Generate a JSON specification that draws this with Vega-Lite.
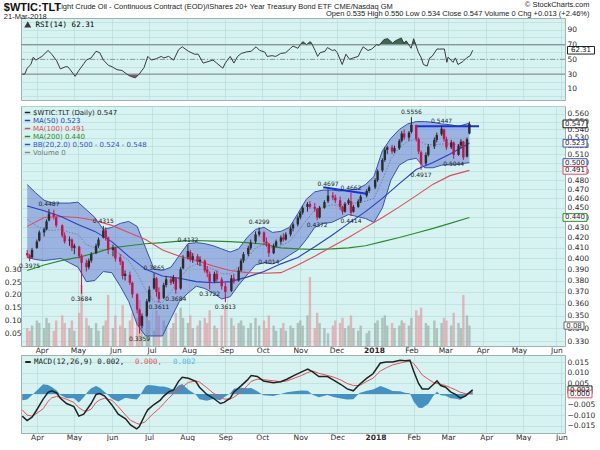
{
"$schema": "https://vega.github.io/schema/vega-lite/v6.json",
"background": "#ffffff",
"padding": {"left": 3, "top": 0, "right": 0, "bottom": 0},
"title": {"text": "$WTIC:TLT", "subtitle": "21-Mar-2018", "anchor": "start", "frame": "bounds", "font": "Liberation Sans", "fontSize": 11, "fontWeight": "bold", "color": "#111111", "subtitleFont": "Liberation Sans", "subtitleFontSize": 7.5, "subtitleColor": "#222222", "subtitlePadding": 0, "offset": 0, "dy": 20},
"datasets": {
"px": [
{"d":"2017-03-20","o":0.405,"h":0.408,"l":0.401,"c":0.403,"v":0.07},
{"d":"2017-03-22","o":0.403,"h":0.404,"l":0.3975,"c":0.400,"v":0.06},
{"d":"2017-03-24","o":0.401,"h":0.410,"l":0.400,"c":0.408,"v":0.08},
{"d":"2017-03-28","o":0.410,"h":0.418,"l":0.409,"c":0.416,"v":0.10},
{"d":"2017-03-30","o":0.417,"h":0.427,"l":0.416,"c":0.425,"v":0.09},
{"d":"2017-04-03","o":0.425,"h":0.430,"l":0.421,"c":0.428,"v":0.07},
{"d":"2017-04-05","o":0.428,"h":0.438,"l":0.427,"c":0.436,"v":0.11},
{"d":"2017-04-07","o":0.437,"h":0.4487,"l":0.436,"c":0.444,"v":0.09},
{"d":"2017-04-11","o":0.444,"h":0.448,"l":0.438,"c":0.441,"v":0.06},
{"d":"2017-04-13","o":0.440,"h":0.441,"l":0.430,"c":0.432,"v":0.10},
{"d":"2017-04-18","o":0.432,"h":0.433,"l":0.420,"c":0.422,"v":0.12},
{"d":"2017-04-20","o":0.422,"h":0.425,"l":0.414,"c":0.416,"v":0.09},
{"d":"2017-04-24","o":0.417,"h":0.421,"l":0.412,"c":0.418,"v":0.07},
{"d":"2017-04-26","o":0.418,"h":0.419,"l":0.407,"c":0.410,"v":0.10},
{"d":"2017-04-28","o":0.410,"h":0.414,"l":0.404,"c":0.412,"v":0.06},
{"d":"2017-05-02","o":0.411,"h":0.412,"l":0.400,"c":0.402,"v":0.13},
{"d":"2017-05-04","o":0.402,"h":0.404,"l":0.3684,"c":0.396,"v":0.24},
{"d":"2017-05-08","o":0.396,"h":0.399,"l":0.388,"c":0.392,"v":0.11},
{"d":"2017-05-10","o":0.392,"h":0.400,"l":0.390,"c":0.398,"v":0.08},
{"d":"2017-05-12","o":0.398,"h":0.406,"l":0.396,"c":0.404,"v":0.07},
{"d":"2017-05-16","o":0.405,"h":0.414,"l":0.404,"c":0.412,"v":0.09},
{"d":"2017-05-18","o":0.412,"h":0.420,"l":0.410,"c":0.418,"v":0.06},
{"d":"2017-05-22","o":0.420,"h":0.4315,"l":0.419,"c":0.427,"v":0.08},
{"d":"2017-05-24","o":0.427,"h":0.430,"l":0.417,"c":0.420,"v":0.10},
{"d":"2017-05-26","o":0.420,"h":0.421,"l":0.404,"c":0.408,"v":0.20},
{"d":"2017-05-30","o":0.408,"h":0.413,"l":0.402,"c":0.410,"v":0.07},
{"d":"2017-06-01","o":0.410,"h":0.411,"l":0.397,"c":0.400,"v":0.12},
{"d":"2017-06-05","o":0.401,"h":0.404,"l":0.394,"c":0.397,"v":0.08},
{"d":"2017-06-07","o":0.397,"h":0.398,"l":0.381,"c":0.384,"v":0.16},
{"d":"2017-06-09","o":0.384,"h":0.389,"l":0.380,"c":0.386,"v":0.07},
{"d":"2017-06-13","o":0.385,"h":0.388,"l":0.376,"c":0.378,"v":0.10},
{"d":"2017-06-15","o":0.378,"h":0.379,"l":0.365,"c":0.368,"v":0.13},
{"d":"2017-06-19","o":0.368,"h":0.369,"l":0.352,"c":0.355,"v":0.11},
{"d":"2017-06-21","o":0.355,"h":0.356,"l":0.3359,"c":0.342,"v":0.18},
{"d":"2017-06-23","o":0.342,"h":0.352,"l":0.340,"c":0.350,"v":0.09},
{"d":"2017-06-27","o":0.350,"h":0.364,"l":0.349,"c":0.362,"v":0.12},
{"d":"2017-06-29","o":0.362,"h":0.375,"l":0.361,"c":0.372,"v":0.10},
{"d":"2017-07-03","o":0.373,"h":0.3865,"l":0.372,"c":0.382,"v":0.06},
{"d":"2017-07-05","o":0.382,"h":0.383,"l":0.366,"c":0.370,"v":0.14},
{"d":"2017-07-07","o":0.370,"h":0.374,"l":0.3611,"c":0.364,"v":0.12},
{"d":"2017-07-11","o":0.365,"h":0.378,"l":0.364,"c":0.376,"v":0.10},
{"d":"2017-07-13","o":0.376,"h":0.384,"l":0.374,"c":0.381,"v":0.08},
{"d":"2017-07-17","o":0.381,"h":0.384,"l":0.376,"c":0.378,"v":0.07},
{"d":"2017-07-19","o":0.379,"h":0.385,"l":0.377,"c":0.383,"v":0.09},
{"d":"2017-07-21","o":0.382,"h":0.383,"l":0.3684,"c":0.372,"v":0.13},
{"d":"2017-07-25","o":0.373,"h":0.392,"l":0.372,"c":0.390,"v":0.15},
{"d":"2017-07-27","o":0.391,"h":0.403,"l":0.390,"c":0.400,"v":0.11},
{"d":"2017-07-31","o":0.401,"h":0.4132,"l":0.399,"c":0.407,"v":0.09},
{"d":"2017-08-02","o":0.406,"h":0.408,"l":0.397,"c":0.399,"v":0.12},
{"d":"2017-08-04","o":0.399,"h":0.405,"l":0.396,"c":0.402,"v":0.07},
{"d":"2017-08-08","o":0.402,"h":0.404,"l":0.394,"c":0.397,"v":0.08},
{"d":"2017-08-10","o":0.397,"h":0.402,"l":0.393,"c":0.399,"v":0.10},
{"d":"2017-08-14","o":0.398,"h":0.399,"l":0.387,"c":0.389,"v":0.11},
{"d":"2017-08-16","o":0.390,"h":0.393,"l":0.383,"c":0.387,"v":0.09},
{"d":"2017-08-18","o":0.386,"h":0.388,"l":0.3722,"c":0.379,"v":0.14},
{"d":"2017-08-22","o":0.379,"h":0.388,"l":0.378,"c":0.386,"v":0.08},
{"d":"2017-08-24","o":0.386,"h":0.389,"l":0.378,"c":0.381,"v":0.07},
{"d":"2017-08-28","o":0.381,"h":0.383,"l":0.372,"c":0.375,"v":0.12},
{"d":"2017-08-31","o":0.375,"h":0.378,"l":0.3613,"c":0.370,"v":0.15},
{"d":"2017-09-05","o":0.371,"h":0.385,"l":0.370,"c":0.382,"v":0.11},
{"d":"2017-09-07","o":0.382,"h":0.386,"l":0.377,"c":0.379,"v":0.08},
{"d":"2017-09-11","o":0.380,"h":0.392,"l":0.379,"c":0.389,"v":0.09},
{"d":"2017-09-13","o":0.389,"h":0.400,"l":0.388,"c":0.398,"v":0.10},
{"d":"2017-09-15","o":0.398,"h":0.406,"l":0.396,"c":0.404,"v":0.08},
{"d":"2017-09-19","o":0.404,"h":0.412,"l":0.402,"c":0.410,"v":0.07},
{"d":"2017-09-21","o":0.410,"h":0.418,"l":0.408,"c":0.415,"v":0.09},
{"d":"2017-09-25","o":0.416,"h":0.426,"l":0.414,"c":0.423,"v":0.11},
{"d":"2017-09-28","o":0.423,"h":0.4299,"l":0.421,"c":0.426,"v":0.08},
{"d":"2017-10-02","o":0.425,"h":0.426,"l":0.413,"c":0.416,"v":0.10},
{"d":"2017-10-04","o":0.416,"h":0.420,"l":0.411,"c":0.414,"v":0.07},
{"d":"2017-10-06","o":0.414,"h":0.415,"l":0.4014,"c":0.405,"v":0.12},
{"d":"2017-10-10","o":0.405,"h":0.414,"l":0.404,"c":0.412,"v":0.08},
{"d":"2017-10-12","o":0.412,"h":0.418,"l":0.410,"c":0.416,"v":0.06},
{"d":"2017-10-16","o":0.416,"h":0.422,"l":0.413,"c":0.420,"v":0.07},
{"d":"2017-10-18","o":0.420,"h":0.424,"l":0.416,"c":0.418,"v":0.09},
{"d":"2017-10-20","o":0.418,"h":0.425,"l":0.417,"c":0.423,"v":0.06},
{"d":"2017-10-24","o":0.423,"h":0.431,"l":0.421,"c":0.429,"v":0.08},
{"d":"2017-10-26","o":0.429,"h":0.435,"l":0.426,"c":0.433,"v":0.07},
{"d":"2017-10-30","o":0.433,"h":0.442,"l":0.431,"c":0.440,"v":0.09},
{"d":"2017-11-01","o":0.440,"h":0.447,"l":0.438,"c":0.445,"v":0.10},
{"d":"2017-11-03","o":0.445,"h":0.452,"l":0.443,"c":0.450,"v":0.08},
{"d":"2017-11-07","o":0.451,"h":0.456,"l":0.446,"c":0.454,"v":0.12},
{"d":"2017-11-09","o":0.454,"h":0.457,"l":0.449,"c":0.451,"v":0.27},
{"d":"2017-11-13","o":0.451,"h":0.455,"l":0.446,"c":0.449,"v":0.07},
{"d":"2017-11-15","o":0.449,"h":0.450,"l":0.4372,"c":0.440,"v":0.13},
{"d":"2017-11-17","o":0.440,"h":0.452,"l":0.439,"c":0.450,"v":0.09},
{"d":"2017-11-21","o":0.450,"h":0.458,"l":0.449,"c":0.456,"v":0.07},
{"d":"2017-11-24","o":0.457,"h":0.4697,"l":0.455,"c":0.463,"v":0.05},
{"d":"2017-11-28","o":0.463,"h":0.467,"l":0.458,"c":0.461,"v":0.08},
{"d":"2017-11-30","o":0.461,"h":0.464,"l":0.455,"c":0.458,"v":0.10},
{"d":"2017-12-04","o":0.458,"h":0.462,"l":0.448,"c":0.451,"v":0.09},
{"d":"2017-12-06","o":0.451,"h":0.452,"l":0.443,"c":0.446,"v":0.11},
{"d":"2017-12-08","o":0.446,"h":0.456,"l":0.445,"c":0.454,"v":0.07},
{"d":"2017-12-11","o":0.455,"h":0.460,"l":0.453,"c":0.458,"v":0.08},
{"d":"2017-12-13","o":0.457,"h":0.4662,"l":0.4414,"c":0.445,"v":0.12},
{"d":"2017-12-15","o":0.446,"h":0.453,"l":0.445,"c":0.451,"v":0.07},
{"d":"2017-12-19","o":0.451,"h":0.459,"l":0.450,"c":0.457,"v":0.06},
{"d":"2017-12-21","o":0.457,"h":0.464,"l":0.455,"c":0.462,"v":0.08},
{"d":"2017-12-26","o":0.463,"h":0.470,"l":0.461,"c":0.468,"v":0.05},
{"d":"2017-12-28","o":0.468,"h":0.474,"l":0.466,"c":0.472,"v":0.06},
{"d":"2018-01-02","o":0.472,"h":0.482,"l":0.470,"c":0.480,"v":0.09},
{"d":"2018-01-04","o":0.480,"h":0.492,"l":0.478,"c":0.490,"v":0.10},
{"d":"2018-01-08","o":0.491,"h":0.505,"l":0.489,"c":0.503,"v":0.11},
{"d":"2018-01-10","o":0.503,"h":0.518,"l":0.501,"c":0.515,"v":0.12},
{"d":"2018-01-12","o":0.515,"h":0.520,"l":0.510,"c":0.518,"v":0.08},
{"d":"2018-01-16","o":0.518,"h":0.521,"l":0.510,"c":0.513,"v":0.09},
{"d":"2018-01-18","o":0.513,"h":0.520,"l":0.511,"c":0.517,"v":0.07},
{"d":"2018-01-22","o":0.517,"h":0.528,"l":0.515,"c":0.526,"v":0.08},
{"d":"2018-01-24","o":0.526,"h":0.538,"l":0.524,"c":0.535,"v":0.10},
{"d":"2018-01-26","o":0.535,"h":0.540,"l":0.527,"c":0.530,"v":0.09},
{"d":"2018-01-30","o":0.530,"h":0.538,"l":0.526,"c":0.536,"v":0.08},
{"d":"2018-02-01","o":0.537,"h":0.5556,"l":0.535,"c":0.546,"v":0.11},
{"d":"2018-02-05","o":0.545,"h":0.546,"l":0.525,"c":0.528,"v":0.14},
{"d":"2018-02-07","o":0.528,"h":0.530,"l":0.510,"c":0.513,"v":0.12},
{"d":"2018-02-09","o":0.512,"h":0.514,"l":0.4917,"c":0.498,"v":0.15},
{"d":"2018-02-13","o":0.499,"h":0.512,"l":0.497,"c":0.509,"v":0.09},
{"d":"2018-02-15","o":0.509,"h":0.522,"l":0.507,"c":0.519,"v":0.08},
{"d":"2018-02-20","o":0.519,"h":0.530,"l":0.516,"c":0.527,"v":0.10},
{"d":"2018-02-22","o":0.527,"h":0.536,"l":0.524,"c":0.533,"v":0.07},
{"d":"2018-02-26","o":0.534,"h":0.5447,"l":0.532,"c":0.541,"v":0.09},
{"d":"2018-02-28","o":0.540,"h":0.541,"l":0.525,"c":0.528,"v":0.11},
{"d":"2018-03-02","o":0.528,"h":0.531,"l":0.515,"c":0.518,"v":0.10},
{"d":"2018-03-06","o":0.518,"h":0.527,"l":0.516,"c":0.524,"v":0.08},
{"d":"2018-03-08","o":0.524,"h":0.525,"l":0.5044,"c":0.509,"v":0.13},
{"d":"2018-03-12","o":0.509,"h":0.522,"l":0.508,"c":0.520,"v":0.09},
{"d":"2018-03-14","o":0.520,"h":0.528,"l":0.517,"c":0.525,"v":0.07},
{"d":"2018-03-16","o":0.525,"h":0.526,"l":0.503,"c":0.506,"v":0.20},
{"d":"2018-03-19","o":0.507,"h":0.530,"l":0.506,"c":0.528,"v":0.12},
{"d":"2018-03-21","o":0.535,"h":0.550,"l":0.534,"c":0.547,"v":0.08}
],
"bb": [
{"d":"2017-03-20","u":0.475,"m":0.438,"l":0.401},
{"d":"2017-03-27","u":0.466,"m":0.432,"l":0.399},
{"d":"2017-04-03","u":0.458,"m":0.428,"l":0.398},
{"d":"2017-04-10","u":0.455,"m":0.427,"l":0.399},
{"d":"2017-04-17","u":0.455,"m":0.428,"l":0.400},
{"d":"2017-04-24","u":0.455,"m":0.425,"l":0.396},
{"d":"2017-05-01","u":0.456,"m":0.423,"l":0.392},
{"d":"2017-05-08","u":0.448,"m":0.413,"l":0.379},
{"d":"2017-05-15","u":0.440,"m":0.410,"l":0.380},
{"d":"2017-05-22","u":0.428,"m":0.408,"l":0.388},
{"d":"2017-05-29","u":0.430,"m":0.409,"l":0.387},
{"d":"2017-06-05","u":0.434,"m":0.404,"l":0.375},
{"d":"2017-06-12","u":0.436,"m":0.398,"l":0.362},
{"d":"2017-06-19","u":0.431,"m":0.386,"l":0.343},
{"d":"2017-06-26","u":0.410,"m":0.372,"l":0.334},
{"d":"2017-07-03","u":0.390,"m":0.362,"l":0.334},
{"d":"2017-07-10","u":0.389,"m":0.361,"l":0.334},
{"d":"2017-07-17","u":0.392,"m":0.370,"l":0.348},
{"d":"2017-07-24","u":0.403,"m":0.382,"l":0.362},
{"d":"2017-07-31","u":0.414,"m":0.391,"l":0.369},
{"d":"2017-08-07","u":0.415,"m":0.395,"l":0.375},
{"d":"2017-08-14","u":0.414,"m":0.393,"l":0.373},
{"d":"2017-08-21","u":0.412,"m":0.390,"l":0.369},
{"d":"2017-08-28","u":0.409,"m":0.386,"l":0.364},
{"d":"2017-09-04","u":0.406,"m":0.386,"l":0.366},
{"d":"2017-09-11","u":0.409,"m":0.392,"l":0.376},
{"d":"2017-09-18","u":0.420,"m":0.400,"l":0.385},
{"d":"2017-09-25","u":0.428,"m":0.410,"l":0.394},
{"d":"2017-10-02","u":0.430,"m":0.413,"l":0.396},
{"d":"2017-10-09","u":0.425,"m":0.410,"l":0.395},
{"d":"2017-10-16","u":0.426,"m":0.412,"l":0.398},
{"d":"2017-10-23","u":0.430,"m":0.416,"l":0.403},
{"d":"2017-10-30","u":0.444,"m":0.426,"l":0.408},
{"d":"2017-11-06","u":0.459,"m":0.437,"l":0.418},
{"d":"2017-11-13","u":0.467,"m":0.448,"l":0.430},
{"d":"2017-11-20","u":0.469,"m":0.451,"l":0.434},
{"d":"2017-11-27","u":0.469,"m":0.453,"l":0.435},
{"d":"2017-12-04","u":0.468,"m":0.453,"l":0.439},
{"d":"2017-12-11","u":0.469,"m":0.455,"l":0.443},
{"d":"2017-12-18","u":0.470,"m":0.455,"l":0.441},
{"d":"2017-12-25","u":0.475,"m":0.457,"l":0.439},
{"d":"2018-01-01","u":0.484,"m":0.460,"l":0.435},
{"d":"2018-01-08","u":0.514,"m":0.480,"l":0.450},
{"d":"2018-01-15","u":0.529,"m":0.504,"l":0.480},
{"d":"2018-01-22","u":0.540,"m":0.518,"l":0.497},
{"d":"2018-01-29","u":0.547,"m":0.525,"l":0.503},
{"d":"2018-02-05","u":0.550,"m":0.528,"l":0.505},
{"d":"2018-02-12","u":0.550,"m":0.522,"l":0.494},
{"d":"2018-02-19","u":0.549,"m":0.521,"l":0.494},
{"d":"2018-02-26","u":0.547,"m":0.522,"l":0.497},
{"d":"2018-03-05","u":0.546,"m":0.522,"l":0.498},
{"d":"2018-03-12","u":0.544,"m":0.521,"l":0.498},
{"d":"2018-03-21","u":0.548,"m":0.524,"l":0.500}
],
"ma": [
{"d":"2017-03-20","a":0.452,"b":0.431,"g":0.389},
{"d":"2017-04-03","a":0.447,"b":0.440,"g":0.394},
{"d":"2017-04-17","a":0.441,"b":0.441,"g":0.398},
{"d":"2017-05-01","a":0.433,"b":0.440,"g":0.401},
{"d":"2017-05-15","a":0.426,"b":0.437,"g":0.405},
{"d":"2017-05-29","a":0.416,"b":0.432,"g":0.410},
{"d":"2017-06-12","a":0.402,"b":0.425,"g":0.412},
{"d":"2017-06-26","a":0.390,"b":0.418,"g":0.414},
{"d":"2017-07-10","a":0.384,"b":0.408,"g":0.415},
{"d":"2017-07-24","a":0.382,"b":0.402,"g":0.4165},
{"d":"2017-08-07","a":0.379,"b":0.398,"g":0.417},
{"d":"2017-08-21","a":0.378,"b":0.393,"g":0.4165},
{"d":"2017-09-04","a":0.379,"b":0.389,"g":0.416},
{"d":"2017-09-18","a":0.383,"b":0.387,"g":0.415},
{"d":"2017-10-02","a":0.388,"b":0.3865,"g":0.4135},
{"d":"2017-10-16","a":0.395,"b":0.387,"g":0.410},
{"d":"2017-10-30","a":0.401,"b":0.394,"g":0.409},
{"d":"2017-11-13","a":0.411,"b":0.402,"g":0.4085},
{"d":"2017-11-27","a":0.422,"b":0.411,"g":0.409},
{"d":"2017-12-11","a":0.434,"b":0.420,"g":0.410},
{"d":"2017-12-25","a":0.446,"b":0.430,"g":0.412},
{"d":"2018-01-08","a":0.460,"b":0.440,"g":0.416},
{"d":"2018-01-22","a":0.476,"b":0.451,"g":0.420},
{"d":"2018-02-05","a":0.492,"b":0.463,"g":0.4245},
{"d":"2018-02-19","a":0.500,"b":0.4755,"g":0.429},
{"d":"2018-03-05","a":0.510,"b":0.485,"g":0.434},
{"d":"2018-03-21","a":0.523,"b":0.491,"g":0.440}
],
"trend": [
{"d":"2017-11-20","p":0.4722,"g":1},
{"d":"2017-12-26","p":0.4650,"g":1},
{"d":"2018-02-04","p":0.5440,"g":2},
{"d":"2018-03-29","p":0.5440,"g":2}
],
"notes": [
{"d":"2017-04-07","p":0.4487,"t":"0.4487","s":"hi"},
{"d":"2017-05-22","p":0.4315,"t":"0.4315","s":"hi"},
{"d":"2017-07-03","p":0.3865,"t":"0.3865","s":"hi"},
{"d":"2017-07-31","p":0.4132,"t":"0.4132","s":"hi"},
{"d":"2017-09-28","p":0.4299,"t":"0.4299","s":"hi"},
{"d":"2017-11-24","p":0.4697,"t":"0.4697","s":"hi"},
{"d":"2017-12-13","p":0.4662,"t":"0.4662","s":"hi"},
{"d":"2018-02-01","p":0.5556,"t":"0.5556","s":"hi"},
{"d":"2018-02-26","p":0.5447,"t":"0.5447","s":"hi"},
{"d":"2017-03-22","p":0.3975,"t":"0.3975","s":"lo"},
{"d":"2017-05-04","p":0.3684,"t":"0.3684","s":"lo"},
{"d":"2017-06-21","p":0.3359,"t":"0.3359","s":"lo"},
{"d":"2017-07-07","p":0.3611,"t":"0.3611","s":"lo"},
{"d":"2017-07-21","p":0.3684,"t":"0.3684","s":"lo"},
{"d":"2017-08-18","p":0.3722,"t":"0.3722","s":"lo"},
{"d":"2017-08-31","p":0.3613,"t":"0.3613","s":"lo"},
{"d":"2017-10-06","p":0.4014,"t":"0.4014","s":"lo"},
{"d":"2017-11-15","p":0.4372,"t":"0.4372","s":"lo"},
{"d":"2017-12-13","p":0.4414,"t":"0.4414","s":"lo"},
{"d":"2018-02-09","p":0.4917,"t":"0.4917","s":"lo"},
{"d":"2018-03-08","p":0.5044,"t":"0.5044","s":"lo"}
],
"tags": [
{"s":"c","v":0.547,"t":"0.547"},
{"s":"m50","v":0.523,"t":"0.523"},
{"s":"bbl","v":0.500,"t":"0.500"},
{"s":"m100","v":0.491,"t":"0.491"},
{"s":"m200","v":0.440,"t":"0.440"}
],
"vtag": [{"v":0.08,"t":"0.08"}],
"rsi": [
{"d":"2017-03-20","r":30},{"d":"2017-03-22","r":30},{"d":"2017-03-24","r":38},{"d":"2017-03-27","r":43},
{"d":"2017-03-29","r":53},{"d":"2017-03-31","r":49},{"d":"2017-04-05","r":54},{"d":"2017-04-10","r":62},
{"d":"2017-04-13","r":57},{"d":"2017-04-17","r":48},{"d":"2017-04-20","r":37},{"d":"2017-04-24","r":40},
{"d":"2017-04-26","r":40},{"d":"2017-04-28","r":36},{"d":"2017-05-02","r":27},{"d":"2017-05-05","r":35},
{"d":"2017-05-09","r":44},{"d":"2017-05-11","r":49},{"d":"2017-05-15","r":52},{"d":"2017-05-19","r":61},
{"d":"2017-05-22","r":59},{"d":"2017-05-25","r":49},{"d":"2017-05-29","r":42},{"d":"2017-06-01","r":40},
{"d":"2017-06-05","r":36},{"d":"2017-06-09","r":35},{"d":"2017-06-13","r":30},{"d":"2017-06-16","r":27},
{"d":"2017-06-20","r":25},{"d":"2017-06-23","r":30},{"d":"2017-06-27","r":39},{"d":"2017-06-30","r":54},
{"d":"2017-07-03","r":49},{"d":"2017-07-07","r":51},{"d":"2017-07-11","r":54},{"d":"2017-07-13","r":52},
{"d":"2017-07-17","r":54},{"d":"2017-07-21","r":49},{"d":"2017-07-25","r":63},{"d":"2017-07-28","r":67},
{"d":"2017-08-02","r":61},{"d":"2017-08-07","r":57},{"d":"2017-08-10","r":57},{"d":"2017-08-14","r":45},
{"d":"2017-08-18","r":47},{"d":"2017-08-22","r":49},{"d":"2017-08-25","r":45},{"d":"2017-08-30","r":38},
{"d":"2017-09-01","r":45},{"d":"2017-09-05","r":54},{"d":"2017-09-08","r":45},{"d":"2017-09-11","r":54},
{"d":"2017-09-14","r":58},{"d":"2017-09-18","r":60},{"d":"2017-09-22","r":61},{"d":"2017-09-26","r":67},
{"d":"2017-09-29","r":62},{"d":"2017-10-03","r":60},{"d":"2017-10-05","r":54},{"d":"2017-10-09","r":55},
{"d":"2017-10-12","r":54},{"d":"2017-10-16","r":58},{"d":"2017-10-20","r":59},{"d":"2017-10-24","r":65},
{"d":"2017-10-26","r":68},{"d":"2017-10-30","r":65},{"d":"2017-11-01","r":70},{"d":"2017-11-03","r":74},
{"d":"2017-11-06","r":70},{"d":"2017-11-09","r":74},{"d":"2017-11-10","r":72},{"d":"2017-11-13","r":62},
{"d":"2017-11-15","r":54},{"d":"2017-11-17","r":59},{"d":"2017-11-21","r":61},{"d":"2017-11-23","r":66},
{"d":"2017-11-27","r":62},{"d":"2017-11-29","r":63},{"d":"2017-12-01","r":59},{"d":"2017-12-05","r":43},
{"d":"2017-12-08","r":57},{"d":"2017-12-11","r":50},{"d":"2017-12-14","r":52},{"d":"2017-12-18","r":54},
{"d":"2017-12-20","r":61},{"d":"2017-12-22","r":67},{"d":"2017-12-26","r":62},{"d":"2017-12-29","r":64},
{"d":"2018-01-02","r":70},{"d":"2018-01-04","r":69},{"d":"2018-01-08","r":77},{"d":"2018-01-11","r":78},
{"d":"2018-01-15","r":72},{"d":"2018-01-17","r":75},{"d":"2018-01-22","r":79},{"d":"2018-01-24","r":72},
{"d":"2018-01-26","r":75},{"d":"2018-01-30","r":65},{"d":"2018-02-01","r":78},{"d":"2018-02-05","r":59},
{"d":"2018-02-07","r":53},{"d":"2018-02-09","r":43},{"d":"2018-02-12","r":41},{"d":"2018-02-14","r":52},
{"d":"2018-02-16","r":54},{"d":"2018-02-20","r":64},{"d":"2018-02-22","r":64},{"d":"2018-02-26","r":64},
{"d":"2018-02-28","r":46},{"d":"2018-03-01","r":53},{"d":"2018-03-05","r":46},{"d":"2018-03-07","r":52},
{"d":"2018-03-09","r":43},{"d":"2018-03-13","r":47},{"d":"2018-03-16","r":52},{"d":"2018-03-19","r":55},
{"d":"2018-03-21","r":62.31}
],
"ob": [
{"d":"2017-11-01","r":70,"g":1},{"d":"2017-11-03","r":74,"g":1},{"d":"2017-11-06","r":70,"g":1},
{"d":"2017-11-09","r":74,"g":1},{"d":"2017-11-10","r":72,"g":1},{"d":"2017-11-11","r":70,"g":1},
{"d":"2018-01-02","r":70,"g":2},{"d":"2018-01-04","r":70,"g":2},{"d":"2018-01-08","r":77,"g":2},
{"d":"2018-01-11","r":78,"g":2},{"d":"2018-01-15","r":72,"g":2},{"d":"2018-01-17","r":75,"g":2},
{"d":"2018-01-22","r":79,"g":2},{"d":"2018-01-24","r":72,"g":2},{"d":"2018-01-26","r":75,"g":2},
{"d":"2018-01-28","r":70,"g":2},
{"d":"2018-01-31","r":70,"g":3},{"d":"2018-02-01","r":78,"g":3},{"d":"2018-02-03","r":70,"g":3}
],
"os": [
{"d":"2017-06-13","r":30},{"d":"2017-06-16","r":27},{"d":"2017-06-20","r":25},{"d":"2017-06-23","r":30}
],
"rtag": [{"r":62.31,"t":"62.31"}],
"macd": [
{"d":"2017-03-20","m":-0.0105,"s":-0.0075,"h":-0.0030},
{"d":"2017-03-24","m":-0.0126,"s":-0.0100,"h":-0.0026},
{"d":"2017-03-28","m":-0.0110,"s":-0.0105,"h":-0.0005},
{"d":"2017-03-31","m":-0.0083,"s":-0.0095,"h":0.0012},
{"d":"2017-04-06","m":-0.0024,"s":-0.0070,"h":0.0046},
{"d":"2017-04-10","m":0.0008,"s":-0.0035,"h":0.0043},
{"d":"2017-04-13","m":0.0015,"s":-0.0018,"h":0.0033},
{"d":"2017-04-17","m":0.0005,"s":-0.0012,"h":0.0017},
{"d":"2017-04-20","m":-0.0020,"s":-0.0015,"h":-0.0005},
{"d":"2017-04-25","m":-0.0045,"s":-0.0025,"h":-0.0020},
{"d":"2017-05-01","m":-0.0060,"s":-0.0040,"h":-0.0020},
{"d":"2017-05-05","m":-0.0105,"s":-0.0065,"h":-0.0040},
{"d":"2017-05-09","m":-0.0096,"s":-0.0080,"h":-0.0016},
{"d":"2017-05-12","m":-0.0070,"s":-0.0080,"h":0.0010},
{"d":"2017-05-15","m":-0.0045,"s":-0.0072,"h":0.0027},
{"d":"2017-05-19","m":-0.0002,"s":-0.0040,"h":0.0038},
{"d":"2017-05-22","m":0.0002,"s":-0.0028,"h":0.0030},
{"d":"2017-05-26","m":-0.0010,"s":-0.0020,"h":0.0010},
{"d":"2017-06-01","m":-0.0053,"s":-0.0030,"h":-0.0023},
{"d":"2017-06-06","m":-0.0096,"s":-0.0060,"h":-0.0036},
{"d":"2017-06-12","m":-0.0118,"s":-0.0100,"h":-0.0018},
{"d":"2017-06-16","m":-0.0147,"s":-0.0125,"h":-0.0022},
{"d":"2017-06-21","m":-0.0165,"s":-0.0139,"h":-0.0026},
{"d":"2017-06-23","m":-0.0156,"s":-0.0143,"h":-0.0013},
{"d":"2017-06-28","m":-0.0096,"s":-0.0132,"h":0.0036},
{"d":"2017-06-30","m":-0.0075,"s":-0.0118,"h":0.0043},
{"d":"2017-07-05","m":-0.0050,"s":-0.0090,"h":0.0040},
{"d":"2017-07-10","m":-0.0030,"s":-0.0065,"h":0.0035},
{"d":"2017-07-13","m":-0.0010,"s":-0.0045,"h":0.0035},
{"d":"2017-07-17","m":0.0010,"s":-0.0020,"h":0.0030},
{"d":"2017-07-21","m":0.0020,"s":0.0002,"h":0.0018},
{"d":"2017-07-25","m":0.0060,"s":0.0020,"h":0.0040},
{"d":"2017-07-28","m":0.0079,"s":0.0032,"h":0.0047},
{"d":"2017-08-02","m":0.0075,"s":0.0055,"h":0.0020},
{"d":"2017-08-08","m":0.0060,"s":0.0062,"h":-0.0002},
{"d":"2017-08-11","m":0.0032,"s":0.0057,"h":-0.0025},
{"d":"2017-08-17","m":-0.0002,"s":0.0030,"h":-0.0032},
{"d":"2017-08-22","m":-0.0019,"s":0.0005,"h":-0.0024},
{"d":"2017-08-28","m":-0.0045,"s":-0.0015,"h":-0.0030},
{"d":"2017-08-31","m":-0.0040,"s":-0.0024,"h":-0.0016},
{"d":"2017-09-05","m":-0.0020,"s":-0.0024,"h":0.0004},
{"d":"2017-09-08","m":0.0010,"s":-0.0015,"h":0.0025},
{"d":"2017-09-14","m":0.0040,"s":0.0010,"h":0.0030},
{"d":"2017-09-19","m":0.0067,"s":0.0040,"h":0.0027},
{"d":"2017-09-22","m":0.0088,"s":0.0060,"h":0.0028},
{"d":"2017-09-27","m":0.0083,"s":0.0070,"h":0.0013},
{"d":"2017-10-02","m":0.0062,"s":0.0068,"h":-0.0006},
{"d":"2017-10-10","m":0.0053,"s":0.0063,"h":-0.0010},
{"d":"2017-10-16","m":0.0058,"s":0.0058,"h":0.0000},
{"d":"2017-10-21","m":0.0070,"s":0.0062,"h":0.0008},
{"d":"2017-10-27","m":0.0088,"s":0.0075,"h":0.0013},
{"d":"2017-11-02","m":0.0105,"s":0.0088,"h":0.0017},
{"d":"2017-11-07","m":0.0118,"s":0.0102,"h":0.0016},
{"d":"2017-11-11","m":0.0105,"s":0.0109,"h":-0.0004},
{"d":"2017-11-16","m":0.0083,"s":0.0098,"h":-0.0015},
{"d":"2017-11-23","m":0.0083,"s":0.0088,"h":-0.0005},
{"d":"2017-11-28","m":0.0066,"s":0.0080,"h":-0.0014},
{"d":"2017-12-04","m":0.0045,"s":0.0066,"h":-0.0021},
{"d":"2017-12-09","m":0.0024,"s":0.0050,"h":-0.0026},
{"d":"2017-12-14","m":0.0015,"s":0.0040,"h":-0.0025},
{"d":"2017-12-19","m":0.0045,"s":0.0040,"h":0.0005},
{"d":"2017-12-25","m":0.0075,"s":0.0060,"h":0.0015},
{"d":"2017-12-30","m":0.0096,"s":0.0075,"h":0.0021},
{"d":"2018-01-05","m":0.0147,"s":0.0109,"h":0.0038},
{"d":"2018-01-10","m":0.0152,"s":0.0125,"h":0.0027},
{"d":"2018-01-15","m":0.0152,"s":0.0138,"h":0.0014},
{"d":"2018-01-21","m":0.0160,"s":0.0147,"h":0.0013},
{"d":"2018-01-25","m":0.0158,"s":0.0152,"h":0.0006},
{"d":"2018-01-29","m":0.0160,"s":0.0156,"h":0.0004},
{"d":"2018-02-01","m":0.0109,"s":0.0145,"h":-0.0036},
{"d":"2018-02-05","m":0.0050,"s":0.0115,"h":-0.0065},
{"d":"2018-02-08","m":0.0024,"s":0.0090,"h":-0.0066},
{"d":"2018-02-13","m":0.0024,"s":0.0070,"h":-0.0046},
{"d":"2018-02-17","m":0.0045,"s":0.0055,"h":-0.0010},
{"d":"2018-02-20","m":0.0062,"s":0.0050,"h":0.0012},
{"d":"2018-02-23","m":0.0040,"s":0.0046,"h":-0.0006},
{"d":"2018-02-27","m":0.0032,"s":0.0040,"h":-0.0008},
{"d":"2018-03-03","m":0.0010,"s":0.0030,"h":-0.0020},
{"d":"2018-03-07","m":-0.0002,"s":0.0020,"h":-0.0022},
{"d":"2018-03-11","m":-0.0019,"s":0.0008,"h":-0.0027},
{"d":"2018-03-15","m":-0.0010,"s":0.0002,"h":-0.0012},
{"d":"2018-03-19","m":0.0010,"s":0.0000,"h":0.0010},
{"d":"2018-03-21","m":0.0020,"s":0.0000,"h":0.0020}
],
"mtag": [{"s":"m","v":0.002,"t":"0.002"},{"s":"s","v":0.000,"t":"0.000"}]
},
"vconcat": [
{
"width": 544,
"height": 82,
"title": {"text": "Light Crude Oil - Continuous Contract (EOD)/iShares 20+ Year Treasury Bond ETF  CME/Nasdaq GM", "anchor": "start", "frame": "group", "font": "Liberation Sans", "fontSize": 7.5, "fontWeight": "normal", "color": "#222222", "offset": 0, "dx": 36, "dy": 10},
"layer": [
{
"data": {"name": "os"},
"mark": {"type": "area", "color": "#7a4a5e", "opacity": 0.9},
"encoding": {
"x": {"field": "d", "type": "temporal", "scale": {"type": "utc", "domain": [{"year":2017,"month":3,"date":19,"utc":true},{"year":2018,"month":6,"date":4,"utc":true}]}, "axis": {"orient": "bottom", "title": null, "labels": false, "grid": true, "tickSize": 0, "tickCount": {"interval": "month", "step": 1}}},
"y": {"field": "r", "type": "quantitative", "scale": {"domain": [-5, 106], "nice": false, "zero": false}, "axis": {"orient": "right", "title": null, "grid": true, "tickSize": 0, "tickCount": 11, "labelExpr": "datum.value % 20 == 10 ? datum.label : ''", "labelPadding": 2}},
"y2": {"datum": 30}
}
},
{
"data": {"name": "ob"},
"mark": {"type": "area", "color": "#365f48", "opacity": 0.95},
"encoding": {
"x": {"field": "d", "type": "temporal", "axis": null},
"y": {"field": "r", "type": "quantitative", "axis": {"title": null}},
"y2": {"datum": 70},
"detail": {"field": "g", "type": "nominal"}
}
},
{
"data": {"values": [{"k": 70}, {"k": 30}]},
"mark": {"type": "rule", "color": "#8a9595", "strokeWidth": 1.2},
"encoding": {"y": {"field": "k", "type": "quantitative", "axis": {"title": null}}}
},
{
"data": {"values": [{"k": 50}]},
"mark": {"type": "rule", "color": "#8a9595", "strokeWidth": 1, "strokeDash": [5, 2, 1, 2]},
"encoding": {"y": {"field": "k", "type": "quantitative", "axis": {"title": null}}}
},
{
"data": {"name": "rsi"},
"mark": {"type": "line", "strokeWidth": 1},
"encoding": {
"x": {"field": "d", "type": "temporal", "axis": {"orient": "top", "labels": false, "grid": false, "tickSize": 0, "title": ["© StockCharts.com", "Open 0.535  High 0.550  Low 0.534  Close 0.547  Volume 0  Chg +0.013 (+2.46%)"], "titleAnchor": "end", "titleAlign": "right", "titleX": 568, "titleFont": "Liberation Sans", "titleFontSize": 7.5, "titleFontWeight": "normal", "titleColor": "#222222", "titlePadding": 1, "titleLineHeight": 8.5}},
"y": {"field": "r", "type": "quantitative", "axis": {"title": null}},
"color": {"datum": "RSI(14) 62.31", "scale": {"domain": ["RSI(14) 62.31"], "range": ["#3a3a3a"]}, "legend": {"orient": "top-left", "title": null, "offset": 2, "labelFont": "DejaVu Sans Mono", "labelFontSize": 7.5, "symbolType": "triangle-up", "symbolSize": 20, "symbolFillColor": "#333333"}}
}
},
{
"data": {"name": "rtag"},
"mark": {"type": "point", "shape": "M-1,-0.28H1V0.28H-1Z", "size": 729, "filled": true, "fill": "#ffffff", "stroke": "#222222", "strokeWidth": 1, "opacity": 1, "xOffset": 16},
"encoding": {
"x": {"datum": {"year":2018,"month":6,"date":4,"utc":true}, "type": "temporal", "axis": null},
"y": {"field": "r", "type": "quantitative", "axis": {"title": null}}
}
},
{
"data": {"name": "rtag"},
"mark": {"type": "text", "font": "DejaVu Sans", "fontSize": 7, "color": "#111111", "xOffset": 16, "align": "center", "baseline": "middle"},
"encoding": {
"x": {"datum": {"year":2018,"month":6,"date":4,"utc":true}, "type": "temporal", "axis": null},
"y": {"field": "r", "type": "quantitative", "axis": {"title": null}},
"text": {"field": "t"}
}
}
],
"resolve": {"axis": {"x": "independent"}}
},
{
"width": 544,
"height": 240,
"layer": [
{
"data": {"name": "px"},
"layer": [
{
"mark": {"type": "bar", "size": 2.4, "opacity": 0.75},
"encoding": {
"x": {"field": "d", "type": "temporal", "scale": {"type": "utc", "domain": [{"year":2017,"month":3,"date":19,"utc":true},{"year":2018,"month":6,"date":4,"utc":true}]}, "axis": {"orient": "bottom", "title": null, "grid": true, "tickSize": 0, "labelPadding": 0, "tickCount": {"interval": "month", "step": 1}, "labelExpr": "utcmonth(datum.value) == 0 ? utcFormat(datum.value, '%Y') : utcFormat(datum.value, '%b')", "labelFontWeight": {"condition": {"test": "utcmonth(datum.value) == 0", "value": "bold"}, "value": "normal"}}},
"y": {"field": "v", "type": "quantitative", "scale": {"domain": [0, 0.94], "nice": false}, "axis": {"orient": "left", "title": null, "grid": false, "tickSize": 0, "tickCount": 19, "labelExpr": "datum.value > 0.001 && datum.value < 0.301 ? format(datum.value, '.2f') : ''", "labelPadding": 0}},
"color": {"condition": {"test": "datum.c < datum.o", "value": "#e39fa4"}, "value": "#9fb2aa"}
}
},
{
"data": {"name": "vtag"},
"mark": {"type": "point", "shape": "M-1,-0.36H1V0.36H-1Z", "size": 400, "filled": true, "fill": "#ffffff", "stroke": "#666666", "strokeWidth": 1, "opacity": 1, "xOffset": 14},
"encoding": {
"x": {"datum": {"year":2018,"month":6,"date":4,"utc":true}, "type": "temporal", "axis": {"title": null}},
"y": {"field": "v", "type": "quantitative", "axis": {"title": null}}
}
},
{
"data": {"name": "vtag"},
"mark": {"type": "text", "font": "DejaVu Sans", "fontSize": 7, "color": "#333333", "xOffset": 14, "align": "center", "baseline": "middle"},
"encoding": {
"x": {"datum": {"year":2018,"month":6,"date":4,"utc":true}, "type": "temporal", "axis": {"title": null}},
"y": {"field": "v", "type": "quantitative", "axis": {"title": null}},
"text": {"field": "t"}
}
}
]
},
{
"layer": [
{
"data": {"name": "bb"},
"mark": {"type": "area", "color": "#5d74d0", "opacity": 0.5},
"encoding": {
"x": {"field": "d", "type": "temporal", "axis": {"title": null}},
"y": {"field": "l", "type": "quantitative", "scale": {"type": "log", "domain": [0.3263, 0.5703], "nice": false, "zero": false}, "axis": {"orient": "right", "title": null, "grid": true, "tickSize": 0, "tickCount": 24, "labelExpr": "datum.value < 0.5655 ? format(datum.value, '.3f') : ''", "labelPadding": 2}},
"y2": {"field": "u"}
}
},
{
"data": {"name": "bb"},
"mark": {"type": "line", "color": "#3a4fae", "strokeWidth": 1},
"encoding": {"x": {"field": "d", "type": "temporal", "axis": {"title": null}}, "y": {"field": "u", "type": "quantitative", "axis": {"title": null}}}
},
{
"data": {"name": "bb"},
"mark": {"type": "line", "color": "#3a4fae", "strokeWidth": 1},
"encoding": {"x": {"field": "d", "type": "temporal", "axis": {"title": null}}, "y": {"field": "l", "type": "quantitative", "axis": {"title": null}}}
},
{
"data": {"name": "bb"},
"mark": {"type": "line", "color": "#6d7590", "strokeWidth": 0.8, "strokeDash": [1.5, 1.5]},
"encoding": {"x": {"field": "d", "type": "temporal", "axis": {"title": null}}, "y": {"field": "m", "type": "quantitative", "axis": {"title": null}}}
},
{
"data": {"name": "ma"},
"mark": {"type": "line", "strokeWidth": 1.1},
"encoding": {
"x": {"field": "d", "type": "temporal", "axis": {"title": null}},
"y": {"field": "g", "type": "quantitative", "axis": {"title": null}},
"color": {
"datum": "MA(200) 0.440",
"scale": {"domain": ["$WTIC:TLT (Daily) 0.547", "MA(50) 0.523", "MA(100) 0.491", "MA(200) 0.440", "BB(20,2.0) 0.500 - 0.524 - 0.548", "Volume 0"], "range": ["#222222", "#2a3fc0", "#e5485a", "#2a8a2a", "#3a4fc0", "#888888"]},
"legend": {
"orient": "top-left", "title": null, "offset": 2, "labelFont": "DejaVu Sans", "labelFontSize": 7, "symbolType": "stroke", "symbolSize": 30, "symbolStrokeWidth": 1.5, "rowPadding": 0, "labelOffset": 2,
"encode": {"labels": {"update": {"fill": {"signal": "datum.label == 'MA(50) 0.523' ? '#2a3fc0' : datum.label == 'MA(100) 0.491' ? '#e5485a' : datum.label == 'MA(200) 0.440' ? '#2a8a2a' : datum.label == 'Volume 0' ? '#777777' : datum.label == '$WTIC:TLT (Daily) 0.547' ? '#222222' : '#3a4fc0'"}}}}
}
}
}
},
{
"data": {"name": "ma"},
"mark": {"type": "line", "strokeWidth": 1.1},
"encoding": {"x": {"field": "d", "type": "temporal", "axis": {"title": null}}, "y": {"field": "b", "type": "quantitative", "axis": {"title": null}}, "color": {"datum": "MA(100) 0.491"}}
},
{
"data": {"name": "ma"},
"mark": {"type": "line", "strokeWidth": 1.1},
"encoding": {"x": {"field": "d", "type": "temporal", "axis": {"title": null}}, "y": {"field": "a", "type": "quantitative", "axis": {"title": null}}, "color": {"datum": "MA(50) 0.523"}}
},
{
"data": {"name": "trend"},
"mark": {"type": "line", "color": "#1530e8", "strokeWidth": 2},
"encoding": {"x": {"field": "d", "type": "temporal", "axis": {"title": null}}, "y": {"field": "p", "type": "quantitative", "axis": {"title": null}}, "detail": {"field": "g", "type": "nominal"}}
},
{
"data": {"name": "px"},
"mark": {"type": "rule", "strokeWidth": 1},
"encoding": {
"x": {"field": "d", "type": "temporal", "axis": {"title": null}},
"y": {"field": "l", "type": "quantitative", "axis": {"title": null}},
"y2": {"field": "h"},
"color": {"condition": {"test": "datum.c < datum.o", "value": "#c8124c"}, "value": "#2b2b2b"}
}
},
{
"data": {"name": "px"},
"mark": {"type": "bar", "size": 2.4},
"encoding": {
"x": {"field": "d", "type": "temporal", "axis": {"title": null}},
"y": {"field": "o", "type": "quantitative", "axis": {"title": null}},
"y2": {"field": "c"},
"color": {"condition": {"test": "datum.c < datum.o", "value": "#c8124c"}, "value": "#2b2b2b"}
}
},
{
"data": {"name": "notes"},
"transform": [{"filter": "datum.s == 'hi'"}],
"mark": {"type": "text", "font": "DejaVu Sans", "fontSize": 6, "color": "#222222", "baseline": "bottom", "dy": -2},
"encoding": {"x": {"field": "d", "type": "temporal", "axis": {"title": null}}, "y": {"field": "p", "type": "quantitative", "axis": {"title": null}}, "text": {"field": "t"}}
},
{
"data": {"name": "notes"},
"transform": [{"filter": "datum.s == 'lo'"}],
"mark": {"type": "text", "font": "DejaVu Sans", "fontSize": 6, "color": "#222222", "baseline": "top", "dy": 2},
"encoding": {"x": {"field": "d", "type": "temporal", "axis": {"title": null}}, "y": {"field": "p", "type": "quantitative", "axis": {"title": null}}, "text": {"field": "t"}}
},
{
"data": {"name": "tags"},
"mark": {"type": "point", "shape": "M-1,-0.32H1V0.32H-1Z", "size": 576, "filled": true, "fill": "#ffffff", "strokeWidth": 1, "opacity": 1, "xOffset": 15},
"encoding": {
"x": {"datum": {"year":2018,"month":6,"date":4,"utc":true}, "type": "temporal", "axis": {"title": null}},
"y": {"field": "v", "type": "quantitative", "axis": {"title": null}},
"stroke": {"field": "s", "type": "nominal", "scale": {"domain": ["c","m50","bbl","m100","m200"], "range": ["#111111","#3a4fc0","#3a4fc0","#e5485a","#2a8a2a"]}, "legend": null}
}
},
{
"data": {"name": "tags"},
"mark": {"type": "text", "font": "DejaVu Sans", "fontSize": 7, "color": "#222222", "xOffset": 15, "align": "center", "baseline": "middle"},
"encoding": {
"x": {"datum": {"year":2018,"month":6,"date":4,"utc":true}, "type": "temporal", "axis": {"title": null}},
"y": {"field": "v", "type": "quantitative", "axis": {"title": null}},
"text": {"field": "t"}
}
}
]
}
],
"resolve": {"scale": {"y": "independent"}, "axis": {"y": "independent"}}
},
{
"width": 544,
"height": 78,
"layer": [
{
"data": {"name": "macd"},
"mark": {"type": "area", "color": "#3b8cc0", "opacity": 0.95},
"encoding": {
"x": {"field": "d", "type": "temporal", "scale": {"type": "utc", "domain": [{"year":2017,"month":3,"date":19,"utc":true},{"year":2018,"month":6,"date":4,"utc":true}]}, "axis": {"orient": "bottom", "title": null, "grid": true, "tickSize": 0, "labelPadding": 0, "tickCount": {"interval": "month", "step": 1}, "labelExpr": "utcmonth(datum.value) == 0 ? utcFormat(datum.value, '%Y') : utcFormat(datum.value, '%b')", "labelFontWeight": {"condition": {"test": "utcmonth(datum.value) == 0", "value": "bold"}, "value": "normal"}}},
"y": {"field": "h", "type": "quantitative", "scale": {"domain": [-0.0185, 0.0185], "nice": false, "zero": false}, "axis": {"orient": "right", "title": null, "grid": true, "tickSize": 0, "tickCount": 8, "labelExpr": "format(datum.value, '.3f')", "labelPadding": 2}},
"y2": {"datum": 0}
}
},
{
"data": {"name": "macd"},
"mark": {"type": "line", "color": "#e8505c", "strokeWidth": 1},
"encoding": {"x": {"field": "d", "type": "temporal", "axis": {"title": null}}, "y": {"field": "s", "type": "quantitative", "axis": {"title": null}}}
},
{
"data": {"name": "macd"},
"mark": {"type": "line", "strokeWidth": 1.5},
"encoding": {
"x": {"field": "d", "type": "temporal", "axis": {"title": null}},
"y": {"field": "m", "type": "quantitative", "axis": {"title": null}},
"color": {
"datum": "MACD(12,26,9) 0.002,",
"scale": {"domain": ["MACD(12,26,9) 0.002,", "0.000,", "0.002"], "range": ["#222222", "#e8505c", "#5ab4e6"]},
"legend": {
"orient": "top-left", "title": null, "direction": "horizontal", "offset": 2, "labelFont": "DejaVu Sans Mono", "labelFontSize": 7.5, "symbolType": "stroke", "symbolSize": 30, "symbolStrokeWidth": 2, "columnPadding": 0, "labelOffset": 2,
"encode": {
"symbols": {"update": {"opacity": {"signal": "datum.label == 'MACD(12,26,9) 0.002,' ? 1 : 0"}}},
"labels": {"update": {"fill": {"signal": "datum.label == '0.000,' ? '#e8505c' : datum.label == '0.002' ? '#5ab4e6' : '#222222'"}}}
}
}
}
}
},
{
"data": {"name": "mtag"},
"mark": {"type": "point", "shape": "M-1,-0.32H1V0.32H-1Z", "size": 576, "filled": true, "fill": "#ffffff", "strokeWidth": 1, "opacity": 1, "xOffset": 15},
"encoding": {
"x": {"datum": {"year":2018,"month":6,"date":4,"utc":true}, "type": "temporal", "axis": {"title": null}},
"y": {"field": "v", "type": "quantitative", "axis": {"title": null}},
"stroke": {"field": "s", "type": "nominal", "scale": {"domain": ["m","s"], "range": ["#222222","#e8505c"]}, "legend": null}
}
},
{
"data": {"name": "mtag"},
"mark": {"type": "text", "font": "DejaVu Sans", "fontSize": 7, "color": "#222222", "xOffset": 15, "align": "center", "baseline": "middle"},
"encoding": {
"x": {"datum": {"year":2018,"month":6,"date":4,"utc":true}, "type": "temporal", "axis": {"title": null}},
"y": {"field": "v", "type": "quantitative", "axis": {"title": null}},
"text": {"field": "t"}
}
}
]
}
],
"spacing": 0,
"resolve": {"scale": {"color": "independent", "stroke": "independent"}, "legend": {"color": "independent", "stroke": "independent"}},
"config": {
"view": {"fill": "#d6f3f1", "stroke": "#9fb0b0"},
"axis": {"labelFont": "DejaVu Sans", "labelFontSize": 7.5, "labelColor": "#2a2a2a", "gridColor": "#b6dcd9", "gridWidth": 0.7, "ticks": false, "tickSize": 0, "domain": false, "labelFlush": false, "labelOverlap": false},
"legend": {"padding": 1, "labelLimit": 400}
}
}
